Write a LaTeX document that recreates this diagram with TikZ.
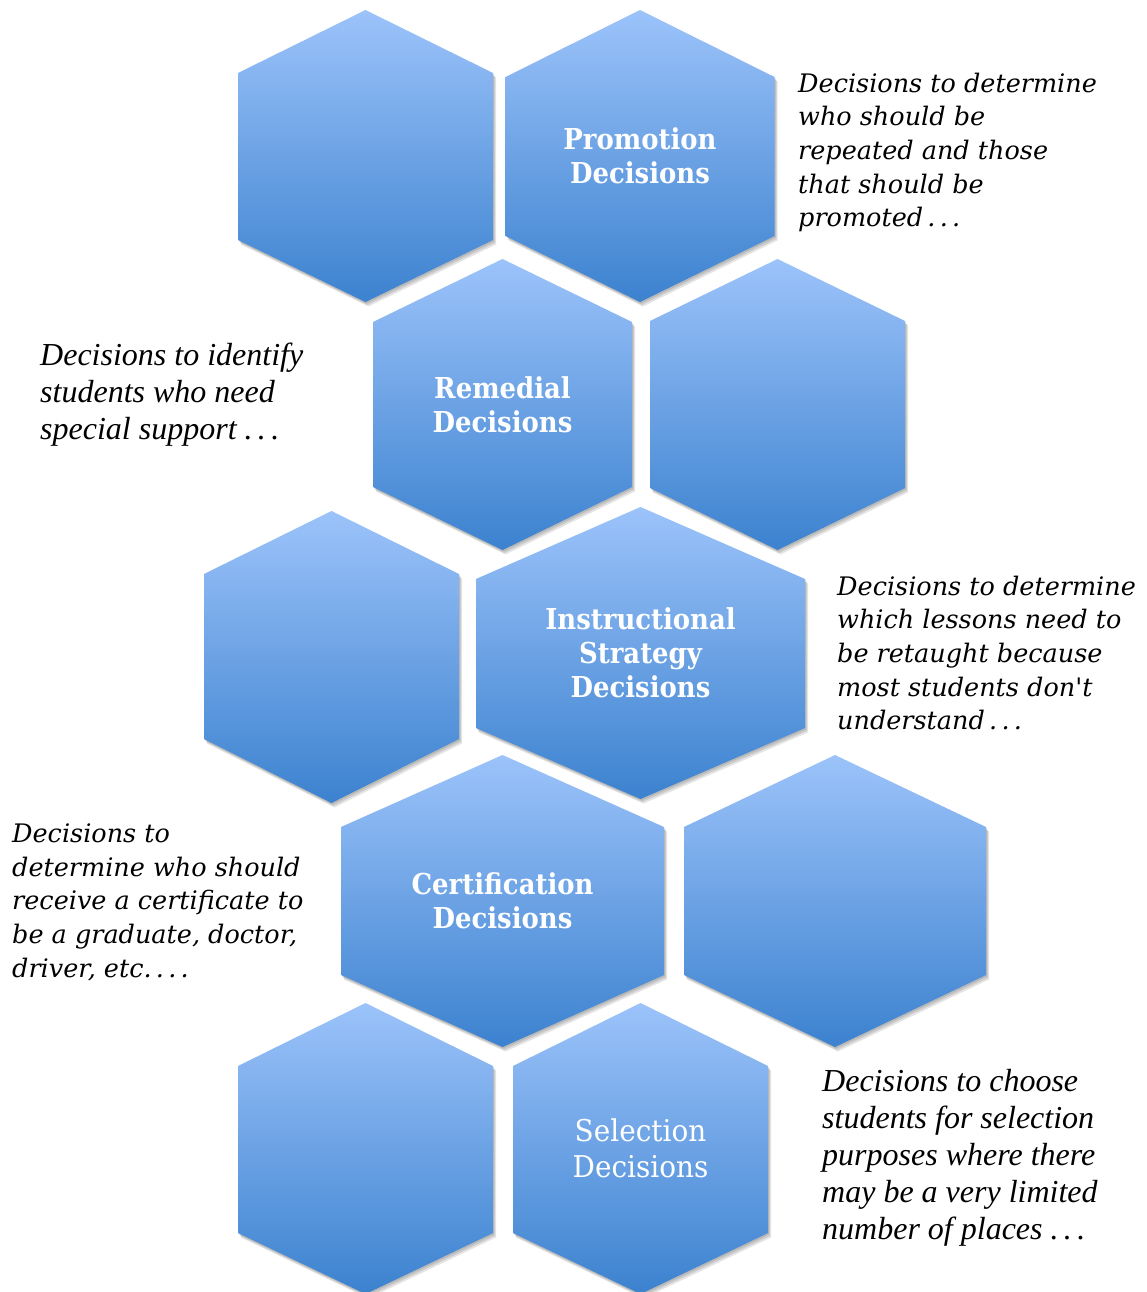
\documentclass[tikz,border=0pt]{standalone}
\usepackage{fontspec}
\newfontfamily\cambriait{DejaVu Serif}
\newfontfamily\cambrialab[FakeStretch=0.9]{DejaVu Serif}
\newfontfamily\cambriasel[FakeStretch=0.93]{DejaVu Serif}
\newfontfamily\timesf{Liberation Serif}
\definecolor{hexTop}{HTML}{9CC3FA}
\definecolor{hexMid}{HTML}{84B2EE}
\definecolor{hexBot}{HTML}{3C82CF}
\begin{document}
\begin{tikzpicture}[x=1pt,y=1pt,
  hexfill/.style={top color=hexTop, middle color=hexMid, bottom color=hexBot, draw=none},
  hexshadow/.style={fill=black, opacity=0.10, draw=none},
  lab/.style={text=white, align=center, inner sep=0pt, anchor=center,
    font={\fontsize{28.8}{34}\selectfont\cambrialab\bfseries}},
  labsel/.style={text=white, align=center, inner sep=0pt, anchor=center,
    font={\fontsize{30}{36}\selectfont\cambriasel}},
  desccam/.style={anchor=north west, align=left, inner sep=0pt, text=black,
    font={\fontsize{25.5}{33.7}\selectfont\cambriait\itshape}},
  desctim/.style={anchor=north west, align=left, inner sep=0pt, text=black,
    font={\fontsize{32}{37}\selectfont\timesf\itshape}}
]
\fill[white] (0,0) rectangle (1147,-1292);
\useasboundingbox (0,0) rectangle (1147,-1292);

% shadows
\foreach \cx/\hw/\t/\sa/\sb/\b in {
  365.5/127.5/10/73/240/302, 640/134.5/10/77/236/302,
  502.5/129.5/259/322/487/550, 777.5/127.5/259/321/488/550,
  331.5/127.5/511/574/739/803, 640.5/164.5/507/579/728/799,
  502.5/161.5/755/827/975/1047, 835/151/755/827/975/1047,
  365.5/127.5/1003/1066/1233/1294, 640.5/127.5/1003/1066/1233/1294}{
  \foreach \dx/\dy in {1/-1.5, 2/-3, 3/-4.5}{
    \fill[hexshadow, shift={(\dx,\dy)}] (\cx,-\t) -- ({\cx+\hw},-\sa) -- ({\cx+\hw},-\sb) -- (\cx,-\b) -- ({\cx-\hw},-\sb) -- ({\cx-\hw},-\sa) -- cycle;
  }
}

% hexagons
\foreach \n/\cx/\hw/\t/\sa/\sb/\b in {
  h1/365.5/127.5/10/73/240/302, h2/640/134.5/10/77/236/302,
  h3/502.5/129.5/259/322/487/550, h4/777.5/127.5/259/321/488/550,
  h5/331.5/127.5/511/574/739/803, h6/640.5/164.5/507/579/728/799,
  h7/502.5/161.5/755/827/975/1047, h8/835/151/755/827/975/1047,
  h9/365.5/127.5/1003/1066/1233/1294, h10/640.5/127.5/1003/1066/1233/1294}{
  \shade[hexfill] (\cx,-\t) -- ({\cx+\hw},-\sa) -- ({\cx+\hw},-\sb) -- (\cx,-\b) -- ({\cx-\hw},-\sb) -- ({\cx-\hw},-\sa) -- cycle;
  \coordinate (\n) at (\cx,{-(\t+\b)/2});
}

% labels
\node[lab] (promotion) at (h2) {Promotion\\Decisions};
\node[lab] (remedial) at (h3) {Remedial\\Decisions};
\node[lab] (instructional) at (h6) {Instructional\\Strategy\\Decisions};
\node[lab] (certification) at (h7) {Certification\\Decisions};
\node[labsel] (selection) at (h10) {Selection\\Decisions};

% descriptions
\node[desccam] (dpromotion) at (798,-72.6) {Decisions to determine\\who should be\\repeated and those\\that should be\\promoted\,.\,.\,.};
\node[desctim] (dremedial) at (40,-343) {Decisions to identify\\students who need\\special support .\,.\,.};
\node[desccam] (dinstructional) at (837,-575.6) {Decisions to determine\\which lessons need to\\be retaught because\\most students don't\\understand\,.\,.\,.};
\node[desccam] (dcertification) at (12,-823.6) {Decisions to\\determine who should\\receive a certificate to\\be a graduate, doctor,\\driver, etc.\,.\,.\,.};
\node[desctim] (dselection) at (822,-1069) {Decisions to choose\\students for selection\\purposes where there\\may be a very limited\\number of places .\,.\,.};
\end{tikzpicture}
\end{document}
